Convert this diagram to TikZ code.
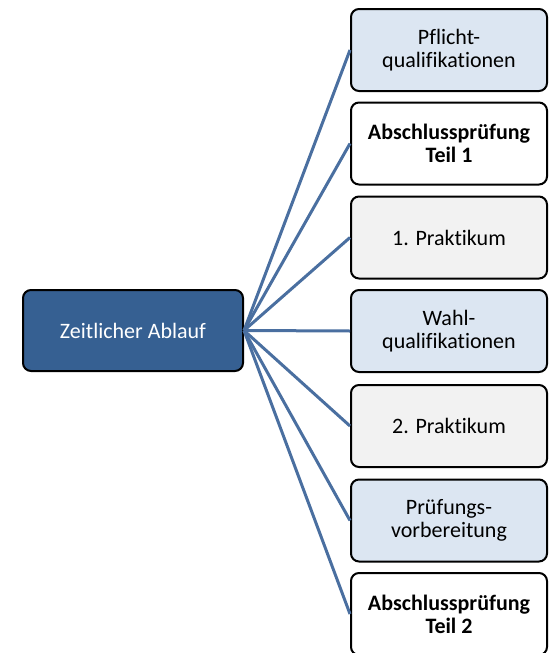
\documentclass[tikz,border=0pt]{standalone}
\usepackage{fontspec}
\setmainfont[Ligatures=NoCommon]{Carlito}
\definecolor{rootblue}{HTML}{366092}
\definecolor{lineblue}{HTML}{4A6FA0}
\definecolor{lblue}{HTML}{DCE6F2}
\definecolor{lgray}{HTML}{F2F2F2}
\begin{document}
\begin{tikzpicture}[x=1pt,y=-1pt,
  leaf/.style={draw=black,line width=2pt,rounded corners=8pt,minimum width=196pt,minimum height=82pt,align=center,font=\fontsize{22}{23}\selectfont,inner sep=0pt},
  boldleaf/.style={leaf,fill=white,font=\fontsize{22}{23}\selectfont\bfseries},
  rootbox/.style={draw=black,line width=2pt,fill=rootblue,rounded corners=8pt,minimum width=220pt,minimum height=81pt,text=white,font=\fontsize{22}{24}\selectfont,inner sep=0pt},
  conn/.style={draw=lineblue,line width=3pt}]
\useasboundingbox (0,0) rectangle (551,653);
\node[rootbox] (root) at (133,330.5) {Zeitlicher Ablauf};
\node[leaf,fill=lblue] (b1) at (449,50) {Pflicht-\\qualifikationen};
\node[boldleaf] (b2) at (449,143.5) {Abschlussprüfung\\Teil 1};
\node[leaf,fill=lgray] (b3) at (449,237.5) {1. Praktikum};
\node[leaf,fill=lblue] (b4) at (449,331) {Wahl-\\qualifikationen};
\node[leaf,fill=lgray] (b5) at (449,426) {2. Praktikum};
\node[leaf,fill=lblue] (b6) at (449,520.5) {Prüfungs-\\vorbereitung};
\node[boldleaf] (b7) at (449,614) {Abschlussprüfung\\Teil 2};
\foreach \b in {b1,b2,b3,b4,b5,b6,b7}{
  \draw[conn] (root.east) -- (\b.west);
}
\end{tikzpicture}
\end{document}
